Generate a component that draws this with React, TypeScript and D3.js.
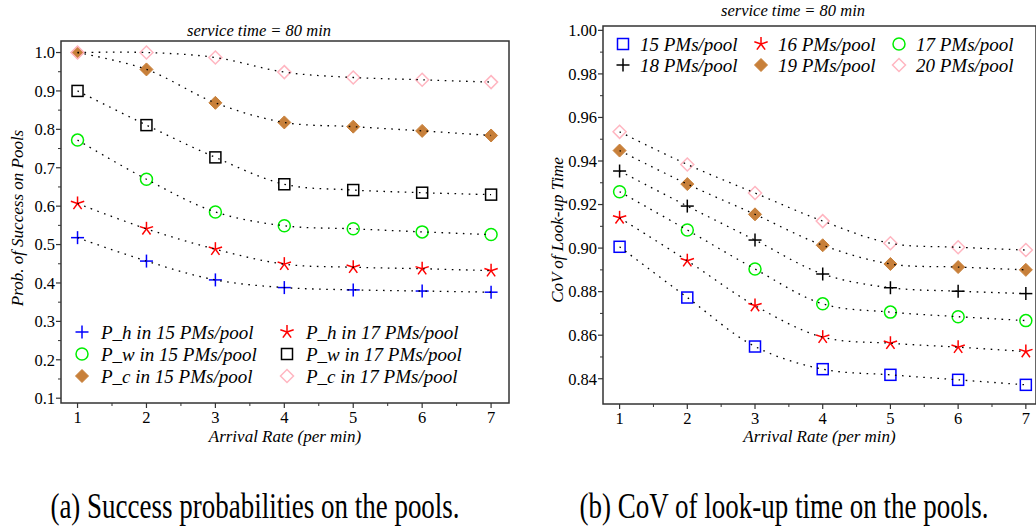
import React from "react";
import * as d3 from "d3";

const arrival = [1, 2, 3, 4, 5, 6, 7];

// Left panel: success probabilities
const ph15 = [0.518, 0.457, 0.408, 0.388, 0.382, 0.379, 0.376];
const ph17 = [0.607, 0.541, 0.488, 0.449, 0.441, 0.437, 0.432];
const pw15 = [0.772, 0.670, 0.585, 0.549, 0.541, 0.533, 0.526];
const pw17 = [0.900, 0.811, 0.727, 0.657, 0.642, 0.635, 0.630];
const pc15 = [1.0, 0.956, 0.869, 0.818, 0.807, 0.796, 0.784];
const pc17 = [1.0, 1.0, 0.987, 0.949, 0.935, 0.929, 0.923];

// Right panel: CoV of look-up time
const cov15 = [0.9006, 0.8773, 0.8548, 0.8444, 0.8418, 0.8395, 0.8372];
const cov16 = [0.9139, 0.8942, 0.8736, 0.8591, 0.8563, 0.8545, 0.8525];
const cov17 = [0.9259, 0.9083, 0.8904, 0.8744, 0.8706, 0.8685, 0.8667];
const cov18 = [0.9354, 0.9193, 0.9037, 0.8881, 0.8818, 0.8802, 0.8791];
const cov19 = [0.9448, 0.9294, 0.9155, 0.9013, 0.8927, 0.8913, 0.8900];
const cov20 = [0.9534, 0.9384, 0.9253, 0.9124, 0.9022, 0.9004, 0.8991];

const leftTicks = [0.1, 0.2, 0.3, 0.4, 0.5, 0.6, 0.7, 0.8, 0.9, 1.0];
const rightTicks = [0.84, 0.86, 0.88, 0.9, 0.92, 0.94, 0.96, 0.98, 1.0];

const leftSeries = [
  { name: "P_h in 15 PMs/pool", values: ph15, marker: "plus", color: "#0000ff" },
  { name: "P_h in 17 PMs/pool", values: ph17, marker: "star", color: "#ff0000" },
  { name: "P_w in 15 PMs/pool", values: pw15, marker: "circle", color: "#00ee00" },
  { name: "P_w in 17 PMs/pool", values: pw17, marker: "square", color: "#000000" },
  { name: "P_c in 15 PMs/pool", values: pc15, marker: "diamondFill", color: "#c8803a" },
  { name: "P_c in 17 PMs/pool", values: pc17, marker: "diamond", color: "#ffb6c1" },
];

const rightSeries = [
  { name: "15 PMs/pool", values: cov15, marker: "square", color: "#0000ff" },
  { name: "16 PMs/pool", values: cov16, marker: "star", color: "#ff0000" },
  { name: "17 PMs/pool", values: cov17, marker: "circle", color: "#00ee00" },
  { name: "18 PMs/pool", values: cov18, marker: "plus", color: "#000000" },
  { name: "19 PMs/pool", values: cov19, marker: "diamondFill", color: "#c8803a" },
  { name: "20 PMs/pool", values: cov20, marker: "diamond", color: "#ffb6c1" },
];

const FONT = "Liberation Serif, Times New Roman, Times, serif";

function Marker({ type, x, y, color }: { type: string; x: number; y: number; color: string }) {
  const sw = 1.5;
  if (type === "plus") {
    return (
      <g stroke={color} strokeWidth={sw}>
        <line x1={x - 6.5} y1={y} x2={x + 6.5} y2={y} />
        <line x1={x} y1={y - 6.5} x2={x} y2={y + 6.5} />
      </g>
    );
  }
  if (type === "star") {
    const r = 7;
    const arms = d3.range(5).map((i) => {
      const a = -Math.PI / 2 + (i * 2 * Math.PI) / 5;
      return <line key={i} x1={x} y1={y} x2={x + r * Math.cos(a)} y2={y + r * Math.sin(a)} />;
    });
    return (
      <g stroke={color} strokeWidth={sw}>
        {arms}
      </g>
    );
  }
  if (type === "circle") {
    return <circle cx={x} cy={y} r={6} fill="none" stroke={color} strokeWidth={sw} />;
  }
  if (type === "square") {
    return <rect x={x - 5.5} y={y - 5.5} width={11} height={11} fill="none" stroke={color} strokeWidth={sw} />;
  }
  const h = 6.5;
  const pts = `${x},${y - h} ${x + h},${y} ${x},${y + h} ${x - h},${y}`;
  if (type === "diamondFill") {
    return <polygon points={pts} fill={color} stroke={color} strokeWidth={1} />;
  }
  return <polygon points={pts} fill="none" stroke={color} strokeWidth={1.5} />;
}

type PanelProps = {
  left: number;
  top: number;
  right: number;
  bottom: number;
  xDomain: [number, number];
  yDomain: [number, number];
  yTicks: number[];
  yMinorStep: number;
  yFormat: string;
  series: { name: string; values: number[]; marker: string; color: string }[];
  title: string;
  titleX: number;
  titleY: number;
  yLabel: string;
  yLabelX: number;
  yLabelY: number;
  xLabelY: number;
  legend: { x: number; y: number; text: number; colW: number; rowH: number; cols: number };
};

function Panel(p: PanelProps) {
  const x = d3.scaleLinear().domain(p.xDomain).range([p.left, p.right]);
  const y = d3.scaleLinear().domain(p.yDomain).range([p.bottom, p.top]);
  const fmt = d3.format(p.yFormat);
  const line = d3
    .line<number>()
    .x((_, i) => x(arrival[i]))
    .y((d) => y(d))
    .curve(d3.curveCatmullRom.alpha(0.5));

  const yMinor: number[] = [];
  for (let i = 0; i < p.yTicks.length - 1; i++) yMinor.push(p.yTicks[i] + p.yMinorStep);
  const xMinor = arrival.slice(0, -1).map((v) => v + 0.5);
  const axisColor = "#333";
  const tStyle = { fontFamily: FONT };

  return (
    <g>
      <text x={p.titleX} y={p.titleY} textAnchor="middle" style={tStyle} fontStyle="italic" fontSize={16.5}>
        {p.title}
      </text>
      <rect x={p.left} y={p.top} width={p.right - p.left} height={p.bottom - p.top} fill="none" stroke={axisColor} strokeWidth={1.5} />
      {p.yTicks.map((t) => (
        <g key={"yt" + t}>
          <line x1={p.left - 5} x2={p.left} y1={y(t)} y2={y(t)} stroke={axisColor} strokeWidth={1.2} />
          <text x={p.left - 6} y={y(t)} dy="0.35em" textAnchor="end" style={tStyle} fontSize={16.5}>
            {fmt(t)}
          </text>
        </g>
      ))}
      {yMinor.map((t) => (
        <line key={"ym" + t} x1={p.left - 3} x2={p.left} y1={y(t)} y2={y(t)} stroke={axisColor} strokeWidth={1} />
      ))}
      {arrival.map((t) => (
        <g key={"xt" + t}>
          <line x1={x(t)} x2={x(t)} y1={p.bottom} y2={p.bottom + 5} stroke={axisColor} strokeWidth={1.2} />
          <text x={x(t)} y={p.bottom + 20} textAnchor="middle" style={tStyle} fontSize={16.5}>
            {t}
          </text>
        </g>
      ))}
      {xMinor.map((t) => (
        <line key={"xm" + t} x1={x(t)} x2={x(t)} y1={p.bottom} y2={p.bottom + 3} stroke={axisColor} strokeWidth={1} />
      ))}
      <text x={(p.left + p.right) / 2} y={p.xLabelY} textAnchor="middle" style={tStyle} fontStyle="italic" fontSize={17}>
        Arrival Rate (per min)
      </text>
      <text
        transform={`translate(${p.yLabelX},${p.yLabelY}) rotate(-90)`}
        textAnchor="middle"
        style={tStyle}
        fontStyle="italic"
        fontSize={17}
      >
        {p.yLabel}
      </text>
      {p.series.map((s) => (
        <g key={s.name}>
          {s.values.map((v, i) => (
            <Marker key={i} type={s.marker} x={x(arrival[i])} y={y(v)} color={s.color} />
          ))}
        </g>
      ))}
      {p.series.map((s) => (
        <path key={"l" + s.name} d={line(s.values) || ""} fill="none" stroke="#000" strokeWidth={1.3} strokeDasharray="1.6,5.5" />
      ))}
      {p.series.map((s, i) => {
        const col = i % p.legend.cols;
        const row = Math.floor(i / p.legend.cols);
        const mx = p.legend.x + col * p.legend.colW;
        const my = p.legend.y + row * p.legend.rowH;
        return (
          <g key={"lg" + s.name}>
            <Marker type={s.marker} x={mx} y={my} color={s.color} />
            <text x={mx + p.legend.text} y={my} dy="0.35em" style={tStyle} fontStyle="italic" fontSize={19}>
              {s.name}
            </text>
          </g>
        );
      })}
    </g>
  );
}

export default function App() {
  return (
    <div style={{ position: "absolute", left: 0, top: 0 }}>
      <svg width={1036} height={531} style={{ display: "block", background: "#fff" }}>
        <Panel
          left={61}
          top={41}
          right={509}
          bottom={403}
          xDomain={[0.76, 7.26]}
          yDomain={[0.0875, 1.03]}
          yTicks={leftTicks}
          yMinorStep={0.05}
          yFormat=".1f"
          series={leftSeries}
          title="service time = 80 min"
          titleX={259}
          titleY={36}
          yLabel="Prob. of Success on Pools"
          yLabelX={23}
          yLabelY={218}
          xLabelY={442}
          legend={{ x: 82, y: 332, text: 19, colW: 205, rowH: 22, cols: 2 }}
        />
        <Panel
          left={603}
          top={26}
          right={1036}
          bottom={404}
          xDomain={[0.755, 7.15]}
          yDomain={[0.8284, 1.002]}
          yTicks={rightTicks}
          yMinorStep={0.01}
          yFormat=".2f"
          series={rightSeries}
          title="service time = 80 min"
          titleX={793}
          titleY={16}
          yLabel="CoV of Look-up Time"
          yLabelX={563}
          yLabelY={230}
          xLabelY={442}
          legend={{ x: 623, y: 44, text: 17, colW: 138, rowH: 21, cols: 3 }}
        />
        <g transform="translate(255,518) scale(1,1.3)">
          <text x={0} y={0} textAnchor="middle" style={{ fontFamily: FONT }} fontSize={27}>
            (a) Success probabilities on the pools.
          </text>
        </g>
        <g transform="translate(784,518) scale(1,1.3)">
          <text x={0} y={0} textAnchor="middle" style={{ fontFamily: FONT }} fontSize={27}>
            (b) CoV of look-up time on the pools.
          </text>
        </g>
      </svg>
    </div>
  );
}
